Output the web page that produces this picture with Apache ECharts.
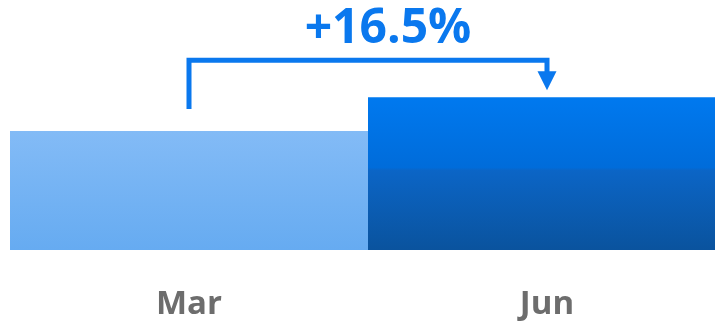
<!DOCTYPE html>
<html>
<head>
<meta charset="utf-8">
<script src="https://cdn.jsdelivr.net/npm/echarts@6/dist/echarts.min.js"></script>
<style>
html,body{margin:0;padding:0;background:#fff;}
#chart{width:715px;height:324px;}
</style>
</head>
<body>
<div id="chart"></div>
<script>
// Data
var categories = ['Mar', 'Jun'];
var values = [100, 116.5];
var changeFrom = 0; // index of category the bracket starts at
var changeTo = 1;   // index of category the bracket points to

var chart = echarts.init(document.getElementById('chart'), null, {renderer: 'canvas'});

var pct = ((values[changeTo] / values[changeFrom] - 1) * 100);
var pctLabel = (pct >= 0 ? '+' : '') + pct.toFixed(1) + '%';

var barColors = [
  new echarts.graphic.LinearGradient(0, 0, 0, 1, [
    {offset: 0, color: '#83BBF6'},
    {offset: 1, color: '#66ABF1'}
  ]),
  new echarts.graphic.LinearGradient(0, 0, 0, 1, [
    {offset: 0, color: '#0079EF'},
    {offset: 0.46, color: '#006CDA'},
    {offset: 0.48, color: '#0B65C6'},
    {offset: 1, color: '#0A539E'}
  ])
];

var blue = '#0A78EE';

chart.setOption({
  animation: false,
  backgroundColor: '#ffffff',
  grid: {left: 10, width: 716, top: 49, bottom: 74, containLabel: false, outerBoundsMode: 'none'},
  xAxis: {
    type: 'category',
    data: categories,
    axisLine: {show: false},
    axisTick: {show: false},
    axisLabel: {
      color: '#6D6D6D',
      fontFamily: 'Open Sans',
      fontWeight: 'bold',
      fontSize: 33,
      margin: 38
    }
  },
  yAxis: {
    type: 'value',
    min: 42,
    max: 140,
    show: false,
    splitLine: {show: false}
  },
  series: [
    {
      type: 'bar',
      barCategoryGap: 0,
      barGap: 0,
      data: values.map(function (v, i) {
        return {value: v, itemStyle: {color: barColors[i]}};
      })
    },
    {
      type: 'custom',
      clip: false,
      z: 5,
      encode: {x: [0, 2], y: [1, 3]},
      data: [[changeFrom, values[changeFrom], changeTo, values[changeTo]]],
      renderItem: function (params, api) {
        var p1 = api.coord([api.value(0), api.value(1)]);
        var p2 = api.coord([api.value(2), api.value(3)]);
        var hy = p2[1] - 37;
        var headBase = p2[1] - 26;
        var tip = p2[1] - 7;
        return {
          type: 'group',
          children: [
            {
              type: 'polyline',
              shape: {points: [[p1[0], p1[1] - 22], [p1[0], hy], [p2[0], hy], [p2[0], headBase + 1]]},
              style: {stroke: blue, lineWidth: 5, fill: null, lineJoin: 'miter', lineCap: 'butt'}
            },
            {
              type: 'polygon',
              shape: {points: [[p2[0] - 9.5, headBase], [p2[0] + 9.5, headBase], [p2[0], tip]]},
              style: {fill: blue}
            },
            {
              type: 'text',
              x: (p1[0] + p2[0]) / 2 + 20,
              y: hy - 31,
              style: {
                text: pctLabel,
                fill: blue,
                font: 'bold 48px "Open Sans"',
                align: 'center',
                verticalAlign: 'middle'
              }
            }
          ]
        };
      }
    }
  ]
});
</script>
</body>
</html>
